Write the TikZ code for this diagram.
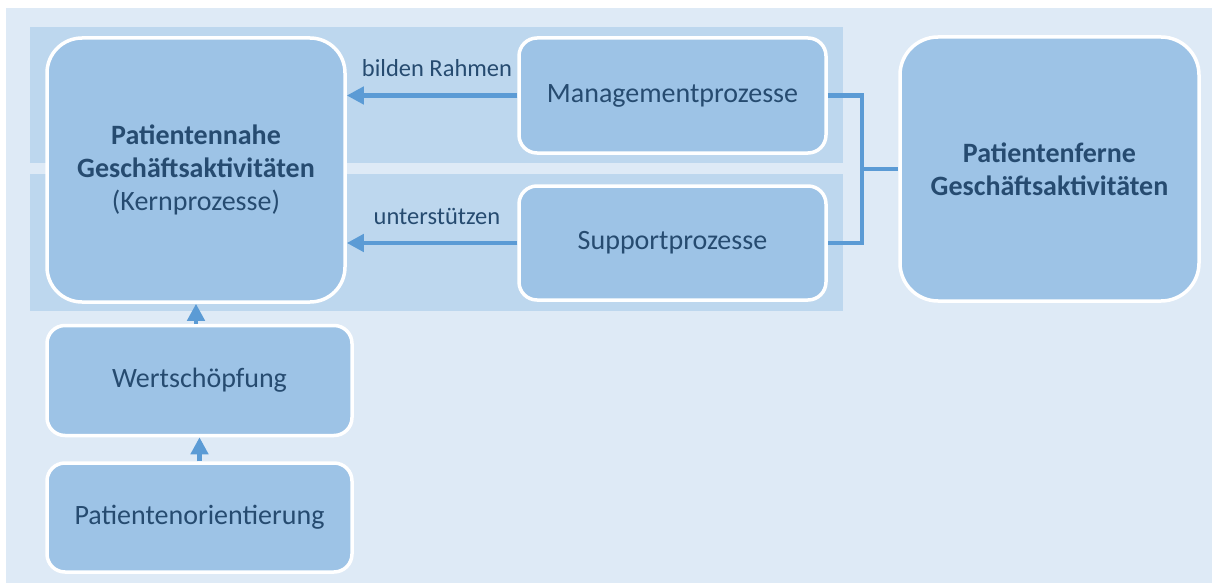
\documentclass[tikz,border=0pt]{standalone}
\usepackage{fontspec}
\setmainfont{Carlito}
\usetikzlibrary{arrows.meta}
\definecolor{bgblue}{HTML}{DEEAF6}
\definecolor{bandblue}{HTML}{BDD7EE}
\definecolor{boxblue}{HTML}{9DC3E6}
\definecolor{linkblue}{HTML}{5B9BD5}
\definecolor{txtblue}{HTML}{264B70}
\begin{document}
\begin{tikzpicture}[x=1pt,y=-1pt,
  box/.style={draw=white,line width=3.5pt,fill=boxblue,rounded corners=#1,
    text=txtblue,align=center,font=\fontsize{28}{33}\selectfont},
  box/.default=18pt,
  band/.style={fill=bandblue,draw=none},
  link/.style={draw=linkblue,line width=4.5pt},
  tip/.style={-{Triangle[length=17pt,width=17pt]}},
  lbl/.style={text=txtblue,font=\fontsize{24.5}{28}\selectfont}]
% canvas
\useasboundingbox (0,0) rectangle (1212,583);
\fill[white] (0,0) rectangle (1212,583);
\fill[bgblue] (6,8) rectangle (1212,583);
% horizontal bands
\fill[band] (30,27) rectangle (843,163);
\fill[band] (30,174) rectangle (843,311);
% process boxes
\node[box=35pt,minimum width=298pt,minimum height=264pt] (kern) at (196,170)
  {\textbf{Patientennahe}\\\textbf{Geschäftsaktivitäten}\\(Kernprozesse)};
\node[box,minimum width=307pt,minimum height=115pt] (mgmt) at (672.5,95.5) {Managementprozesse};
\node[box,minimum width=307pt,minimum height=114pt] (supp) at (672.5,243) {Supportprozesse};
\node[box=38pt,minimum width=299pt,minimum height=264pt] (fern) at (1049.5,169)
  {\textbf{Patientenferne}\\\textbf{Geschäftsaktivitäten}};
\node[box,minimum width=305pt,minimum height=110pt] (wert) at (199.5,380.5) {Wertschöpfung};
\node[box,minimum width=305pt,minimum height=109pt] (pat) at (199.5,517.5) {Patientenorientierung};
% arrows into the core processes
\draw[link,tip] (mgmt.west) -- (mgmt.west -| kern.east) coordinate (a1);
\draw[link,tip] (supp.west) -- (supp.west -| kern.east) coordinate (a2);
\node[lbl] at (437,68) {bilden Rahmen};
\node[lbl] at (437,216) {unterstützen};
\draw[link,tip] (wert.north -| kern.south) -- (kern.south);
\draw[link,tip] (pat.north) -- (wert.south);
% bracket joining management and support to the remote activities
\coordinate (jx) at (862,0);
\draw[link] (mgmt.east) -- (mgmt.east -| jx) -- (supp.east -| jx) -- (supp.east);
\draw[link] (jx |- fern.west) -- (fern.west);
\end{tikzpicture}
\end{document}
